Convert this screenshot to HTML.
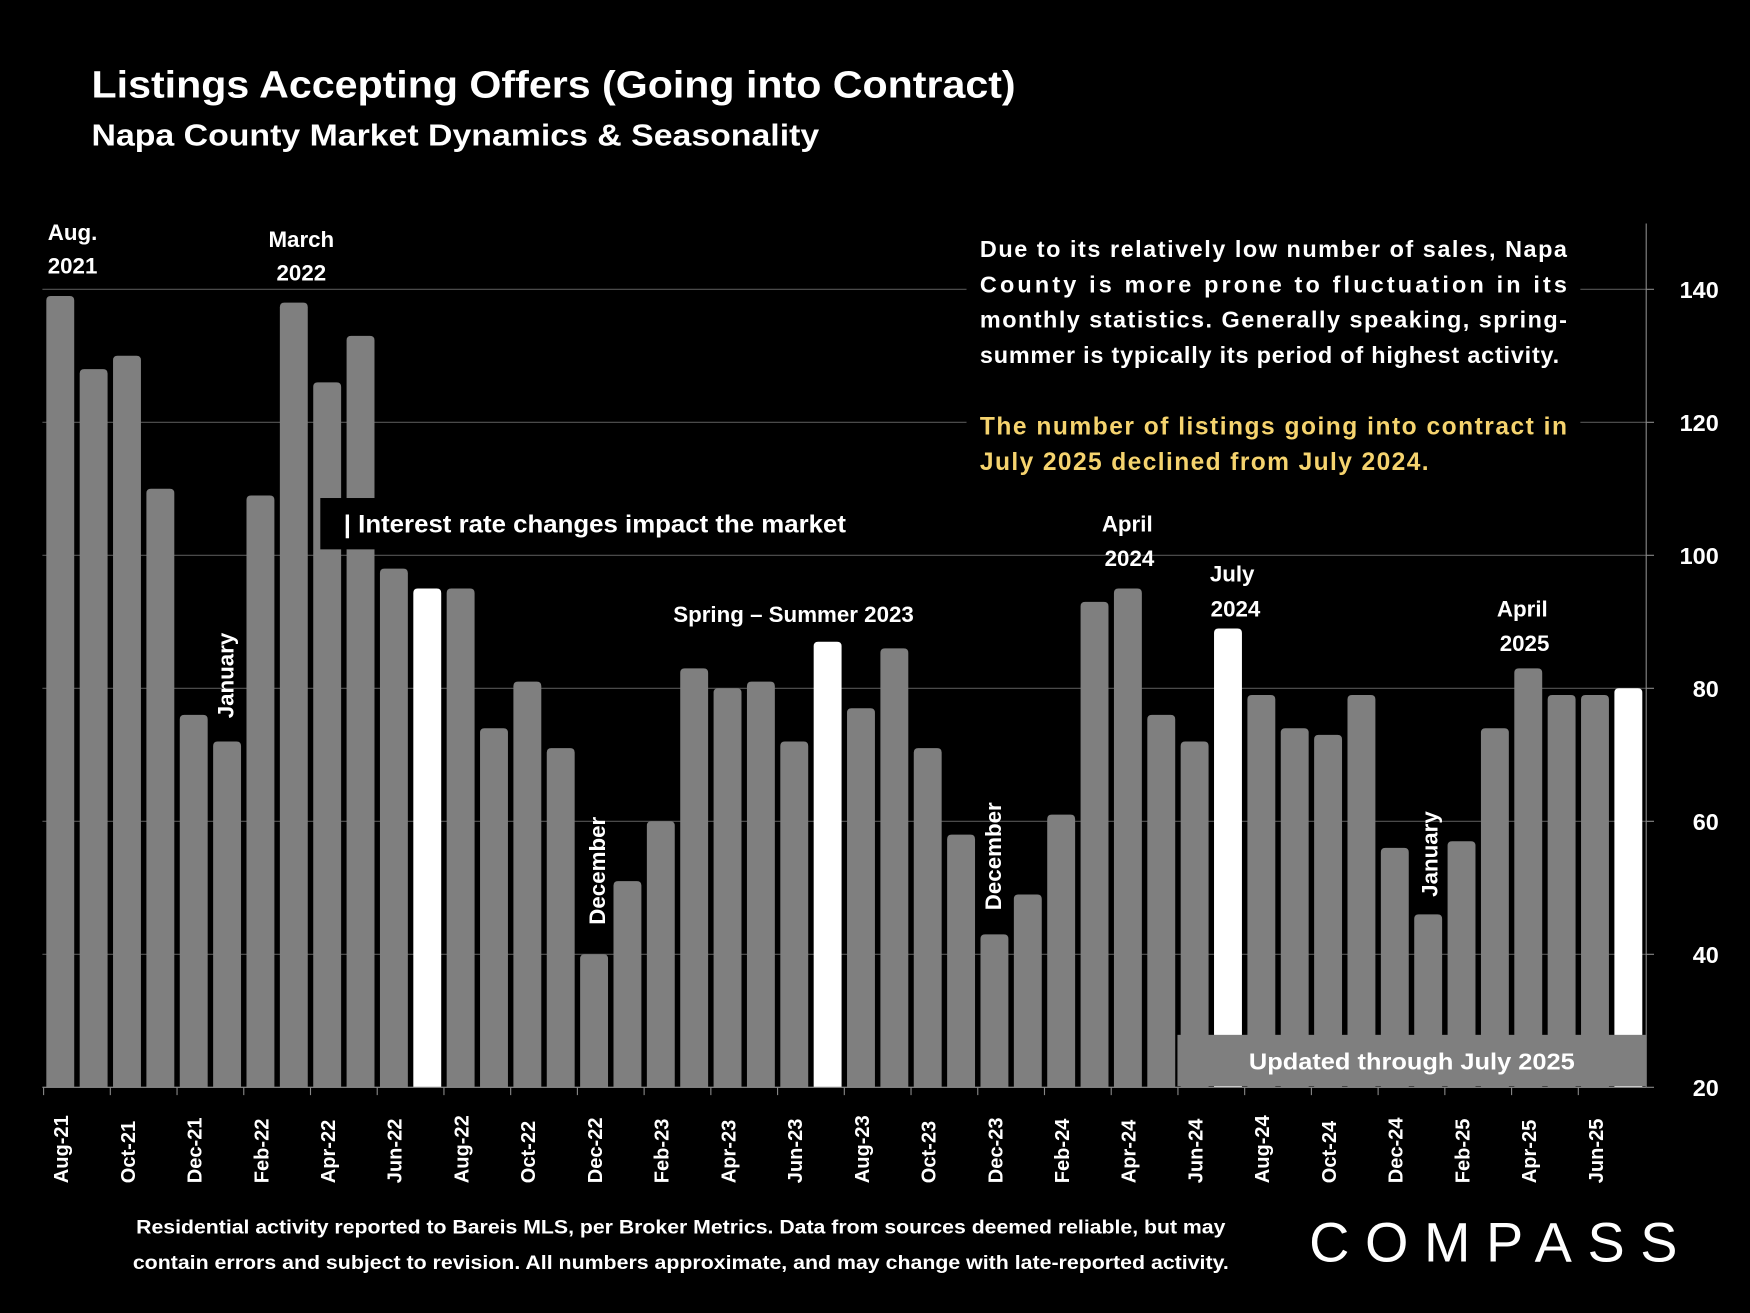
<!DOCTYPE html>
<html><head><meta charset="utf-8"><style>
html,body{margin:0;padding:0;background:#000;}
svg{display:block;}
text{font-family:"Liberation Sans",sans-serif;font-weight:bold;fill:#fff;}
</style></head><body>
<svg id="chart" width="1750" height="1313" viewBox="0 0 1568 1176" xmlns="http://www.w3.org/2000/svg">
<rect width="1568" height="1176" fill="#000"/>
<text x="82" y="87" font-size="34" textLength="828" lengthAdjust="spacingAndGlyphs">Listings Accepting Offers (Going into Contract)</text>
<text x="82" y="130" font-size="27" textLength="652" lengthAdjust="spacingAndGlyphs">Napa County Market Dynamics &amp; Seasonality</text>
<g id="grid"></g>
<g id="bars"></g>
<g id="xlabels"></g>
<g id="ylabels"></g>
<g>
<rect x="866" y="200" width="550" height="230" fill="#000"/>
<text x="878" y="230" font-size="21" textLength="526" lengthAdjust="spacing">Due to its relatively low number of sales, Napa</text>
<text x="878" y="262" font-size="21" textLength="526" lengthAdjust="spacing">County is more prone to fluctuation in its</text>
<text x="878" y="293" font-size="21" textLength="526" lengthAdjust="spacing">monthly statistics.  Generally speaking, spring-</text>
<text x="878" y="325" font-size="21" textLength="519" lengthAdjust="spacing">summer is typically its period of highest activity.</text>
<text x="878" y="389" font-size="22" textLength="526" lengthAdjust="spacing" style="fill:#f5d36e">The number of listings going into contract in</text>
<text x="878" y="421" font-size="22" textLength="402" lengthAdjust="spacing" style="fill:#f5d36e">July 2025 declined from July 2024.</text>
</g>
<g>
<rect x="287" y="446" width="50" height="46" fill="#000"/>
<text x="308" y="477" font-size="22" textLength="450" lengthAdjust="spacingAndGlyphs">| Interest rate changes impact the market</text>
</g>
<g>
<rect x="1055" y="927" width="420" height="46" fill="#7f7f7f"/>
<text x="1265" y="958" font-size="21" text-anchor="middle" textLength="292" lengthAdjust="spacingAndGlyphs">Updated through July 2025</text>
</g>
<g font-size="20" text-anchor="middle">
<text x="65" y="215">Aug.</text><text x="65" y="245">2021</text>
<text x="270" y="221">March</text><text x="270" y="251">2022</text>
<text x="711" y="557">Spring – Summer 2023</text>
<text x="1010" y="476">April</text><text x="1012" y="507">2024</text>
<text x="1104" y="521">July</text><text x="1107" y="552">2024</text>
<text x="1364" y="552">April</text><text x="1366" y="583">2025</text>
<text transform="translate(209,605) rotate(-90)">January</text>
<text transform="translate(542,780) rotate(-90)">December</text>
<text transform="translate(897,767) rotate(-90)">December</text>
<text transform="translate(1288,765) rotate(-90)">January</text>
</g>
<g font-size="17" text-anchor="middle">
<text x="610" y="1105" textLength="976" lengthAdjust="spacingAndGlyphs">Residential activity reported to Bareis MLS, per Broker Metrics. Data from sources deemed reliable, but may</text>
<text x="610" y="1137" textLength="982" lengthAdjust="spacingAndGlyphs">contain errors and subject to revision. All numbers approximate, and may change with late-reported activity.</text>
</g>
<g>
<text x="1338" y="1130" font-size="50" text-anchor="middle" textLength="330" lengthAdjust="spacing" style="font-weight:normal">COMPASS</text>
</g>
<script>
const months = ["Aug-21","Sep-21","Oct-21","Nov-21","Dec-21","Jan-22","Feb-22","Mar-22","Apr-22","May-22","Jun-22","Jul-22","Aug-22","Sep-22","Oct-22","Nov-22","Dec-22","Jan-23","Feb-23","Mar-23","Apr-23","May-23","Jun-23","Jul-23","Aug-23","Sep-23","Oct-23","Nov-23","Dec-23","Jan-24","Feb-24","Mar-24","Apr-24","May-24","Jun-24","Jul-24","Aug-24","Sep-24","Oct-24","Nov-24","Dec-24","Jan-25","Feb-25","Mar-25","Apr-25","May-25","Jun-25","Jul-25"];
const values = [139,128,130,110,76,72,109,138,126,133,98,95,95,74,81,71,40,51,60,83,80,81,72,87,77,86,71,58,43,49,61,93,95,76,72,89,79,74,73,79,56,46,57,74,83,79,79,80];
const highlighted = ["Jul-22","Jul-23","Jul-24","Jul-25"];
const yTicks = [20,40,60,80,100,120,140];
const NS="http://www.w3.org/2000/svg";
const x0=54, step=(1459-54)/47, bw=25;
const xScale=i=>x0+i*step;
const yScale=v=>974-(v-20)*(974-259)/120;
function mk(tag,attrs,parent){const e=document.createElementNS(NS,tag);for(const k in attrs)e.setAttribute(k,attrs[k]);parent.appendChild(e);return e;}
const grid=document.getElementById('grid'), bars=document.getElementById('bars'), xl=document.getElementById('xlabels'), yl=document.getElementById('ylabels');
yTicks.forEach(t=>{
  const l=mk('line',{x1:38,x2:1475,y1:yScale(t),y2:yScale(t),stroke:'#555','stroke-width':1},grid);
  
  
  const tk=mk('line',{x1:1475,x2:1482,y1:yScale(t),y2:yScale(t),stroke:'#888'},yl);
  
  
  const tx=mk('text',{x:1540,y:yScale(t)+8,'font-size':21,'text-anchor':'end'},yl);
  tx.textContent=t;
  
  
});
const ax=mk('line',{x1:1475,x2:1475,y1:200,y2:974,stroke:'#888'},yl);


const bl=mk('line',{x1:38,x2:1475,y1:974,y2:974,stroke:'#888'},yl);


values.forEach((v,i)=>{
  const cx=xScale(i), top=yScale(v);
  const hi=highlighted.includes(months[i]);
  const r=4;
  const p=mk('path',{d:`M${cx-bw/2},974 V${top+r} Q${cx-bw/2},${top} ${cx-bw/2+r},${top} H${cx+bw/2-r} Q${cx+bw/2},${top} ${cx+bw/2},${top+r} V974 Z`,fill:hi?'#ffffff':'#7f7f7f'},bars);
  
  
  if(i%2===0){
    const tk=mk('line',{x1:cx-step/2,x2:cx-step/2,y1:974,y2:981,stroke:'#888'},xl);
    
    
    const t=mk('text',{transform:`translate(${cx+7},${1060}) rotate(-90)`,'font-size':18},xl);
    t.textContent=months[i];
    
    
  }
});
</script>
</svg>
</body></html>
